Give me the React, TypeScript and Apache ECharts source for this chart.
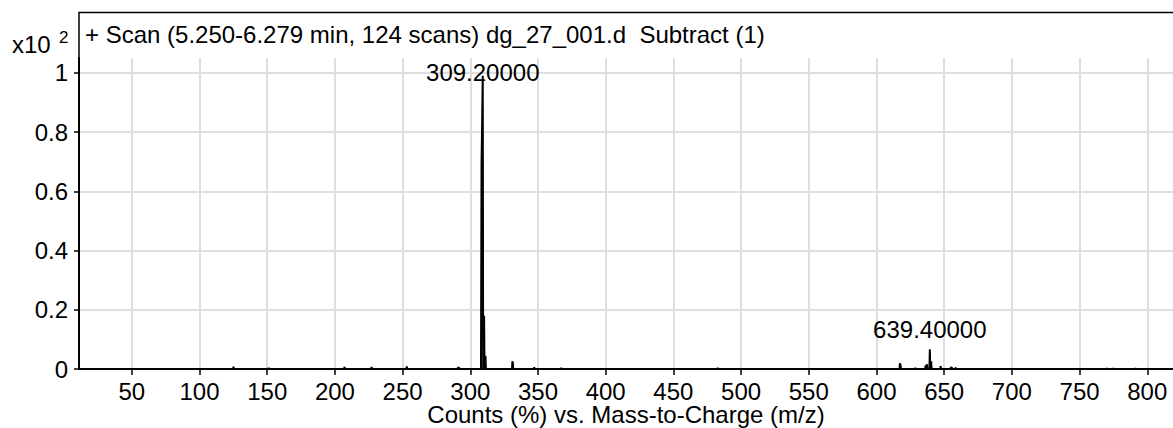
import React, { useEffect, useRef } from "react";
import * as echarts from "echarts";

// Spectrum (m/z vs relative counts, axis unit = x10^2 %)
const spectrumMz = [
  11, 124.8, 125.1, 125.4, 150.8, 151.1, 151.4, 206.8, 207.1, 207.4,
  226.8, 227.1, 227.4, 252.8, 253.1, 253.4, 290.5, 290.8, 291.8, 292.1,
  307.9, 308.3, 309.2, 309.5, 309.9, 310.2, 310.5, 310.9, 311.2, 311.5,
  330.8, 331.1, 331.4, 331.7, 346.9, 347.2, 347.5, 366.9, 367.2, 367.5,
  482.4, 482.7, 483.0, 617.0, 617.3, 617.7, 618.1, 628.4, 628.7, 629.0,
  635.9, 636.3, 636.7, 637.0, 637.3, 637.6, 639.1, 639.4, 639.7, 640.1,
  640.4, 640.7, 647.1, 647.4, 647.7, 654.6, 654.9, 655.6, 655.9, 658.2,
  658.5, 658.8, 770.0, 770.3, 770.6, 774.7, 775.0, 775.3, 791.0, 791.3,
  791.6, 819,
];
const spectrumIntensity = [
  0, 0, 0.008, 0, 0, 0.004, 0, 0, 0.007, 0,
  0, 0.007, 0, 0, 0.009, 0, 0, 0.004, 0.004, 0,
  0, 0.69, 0.99, 0, 0, 0.18, 0, 0, 0.045, 0,
  0, 0.026, 0.022, 0, 0, 0.006, 0, 0, 0.004, 0,
  0, 0.004, 0, 0, 0.019, 0.014, 0, 0, 0.004, 0,
  0, 0.012, 0, 0, 0.016, 0, 0, 0.067, 0, 0,
  0.026, 0, 0, 0.01, 0, 0, 0.005, 0.005, 0, 0,
  0.005, 0, 0, 0.003, 0, 0, 0.003, 0, 0, 0.003,
  0, 0,
];

const peakLabelMz = [309.2, 639.4];
const peakLabelIntensity = [0.99, 0.067];

const xTickValues = [50, 100, 150, 200, 250, 300, 350, 400, 450, 500, 550, 600, 650, 700, 750, 800];
const yTickValues = [0, 0.2, 0.4, 0.6, 0.8, 1];

const titleText = "+ Scan (5.250-6.279 min, 124 scans) dg_27_001.d  Subtract (1)";
const xAxisName = "Counts (%) vs. Mass-to-Charge (m/z)";
const yScaleText = "x10";
const yScaleExp = "2";

export default function App() {
  const ref = useRef<HTMLDivElement>(null);

  useEffect(() => {
    if (!ref.current) return;
    const chart = echarts.init(ref.current, null, { renderer: "svg" });
    const font = "'Liberation Sans', Arial, Helvetica, sans-serif";
    const fs = 24;

    chart.setOption({
      animation: false,
      textStyle: { fontFamily: font, color: "#000" },
      grid: { left: 79, right: 0, top: 58, bottom: 59, containLabel: false, outerBoundsMode: "none" },
      xAxis: {
        type: "value",
        min: 11,
        max: 819,
        name: xAxisName,
        nameLocation: "middle",
        nameGap: 36,
        nameMoveOverlap: false,
        nameTextStyle: { fontSize: fs, lineHeight: 18, color: "#000", fontFamily: font, verticalAlign: "top" },
        axisLine: { show: true, onZero: false, lineStyle: { color: "#000", width: 2 } },
        axisTick: { show: true, customValues: xTickValues, length: 6, lineStyle: { color: "#000", width: 1.5 } },
        axisLabel: { customValues: xTickValues, fontSize: fs, lineHeight: 18, color: "#000", margin: 13, fontFamily: font },
        splitLine: { show: true, lineStyle: { color: "#dedede", width: 2 } },
      },
      yAxis: {
        type: "value",
        min: 0,
        max: 1.05,
        axisLine: { show: true, onZero: false, lineStyle: { color: "#000", width: 2 } },
        axisTick: { show: true, customValues: yTickValues, length: 5, lineStyle: { color: "#000", width: 1.5 } },
        axisLabel: {
          customValues: yTickValues,
          fontSize: fs,
          color: "#000",
          margin: 11,
          fontFamily: font,
          formatter: (v: number) => String(+v.toFixed(1)),
        },
        splitLine: { show: true, lineStyle: { color: "#dedede", width: 2 } },
      },
      series: [
        {
          type: "line",
          data: spectrumMz.map((m, i) => [m, spectrumIntensity[i]]),
          symbol: "none",
          lineStyle: { color: "#000", width: 2 },
          clip: true,
          z: 3,
          silent: true,
        },
        {
          type: "scatter",
          symbolSize: 0,
          silent: true,
          z: 4,
          data: peakLabelMz.map((m, i) => ({
            value: [m, peakLabelIntensity[i]],
            label:
              i === 0
                ? { position: "inside", offset: [0, -3] }
                : { position: "top", distance: 8 },
          })),
          label: {
            show: true,
            formatter: (p: any) => Number(p.value[0]).toFixed(5),
            fontSize: fs,
            color: "#000",
            opacity: 1,
            textBorderWidth: 0,
            fontFamily: font,
          },
        },
      ],
      graphic: [
        {
          type: "polyline",
          shape: { points: [[79, 58], [79, 12.5], [1175, 12.5]] },
          style: { stroke: "#000", lineWidth: 1.5, fill: "none" },
          z: 10,
        },
        {
          type: "text",
          x: 85,
          y: 34,
          style: { text: titleText, fontSize: fs, fontFamily: font, fill: "#000", verticalAlign: "middle" },
        },
        {
          type: "text",
          x: 12,
          y: 44,
          style: { text: yScaleText, fontSize: fs, fontFamily: font, fill: "#000", verticalAlign: "middle" },
        },
        {
          type: "text",
          x: 59,
          y: 37,
          style: { text: yScaleExp, fontSize: 17, fontFamily: font, fill: "#000", verticalAlign: "middle" },
        },
      ],
    });

    return () => chart.dispose();
  }, []);

  return <div ref={ref} style={{ position: "absolute", left: 0, top: 0, width: 1173, height: 428 }} />;
}
